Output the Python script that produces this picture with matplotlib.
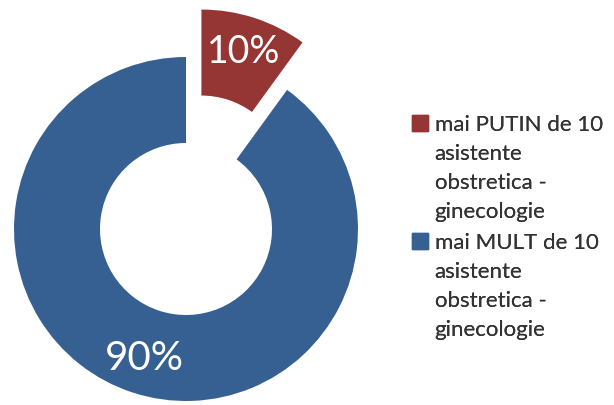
import matplotlib
matplotlib.use("Agg")
import matplotlib.pyplot as plt
import matplotlib.patches as mpatches

# ── Data ──────────────────────────────────────────────────────────────────────
labels = [
    "mai PUTIN de 10\nasistente\nobstretica -\nginecologie",
    "mai MULT de 10\nasistente\nobstretica -\nginecologie",
]
values = [10, 90]
colours = ["#963634", "#376092"]

plt.rcParams["font.family"] = ["Lato", "DejaVu Sans"]

W, H = 614, 405
CX, CY, R = 186, 229, 172          # pie centre / radius in pixels (from top)

fig = plt.figure(figsize=(W / 100, H / 100), dpi=100)
ax = fig.add_axes([0, 0, 1, 1])

wedges, _, autotexts = ax.pie(
    values,
    colors=colours,
    startangle=90,
    counterclock=False,
    explode=[0.29, 0],
    autopct="%1.0f%%",
    pctdistance=0.79,
    wedgeprops=dict(width=0.5, linewidth=0),
    textprops=dict(color="white", fontsize=27),
)
autotexts[1].set_fontsize(29)

ax.set_xlim(-CX / R, (W - CX) / R)
ax.set_ylim(-(H - CY) / R, CY / R)
ax.axis("off")

# one legend per category so the square sits on the first text line
legend_tops = [115, 233]           # pixel rows (from top)
for colour, label, top in zip(colours, labels, legend_tops):
    lines = label.split("\n")
    handles = [mpatches.Patch(color=colour if i == 0 else "none", label=t)
               for i, t in enumerate(lines)]
    leg = fig.legend(
        handles=handles,
        loc="upper left",
        bbox_to_anchor=(412 / W, 1 - top / H),
        frameon=False,
        fontsize=16,
        handlelength=0.72,
        handleheight=0.72,
        handletextpad=0.3,
        labelspacing=0.41,
        borderpad=0,
        borderaxespad=0,
        labelcolor="#333333",
    )
    fig.add_artist(leg)

fig.savefig("out.png", dpi=100, facecolor="white")
